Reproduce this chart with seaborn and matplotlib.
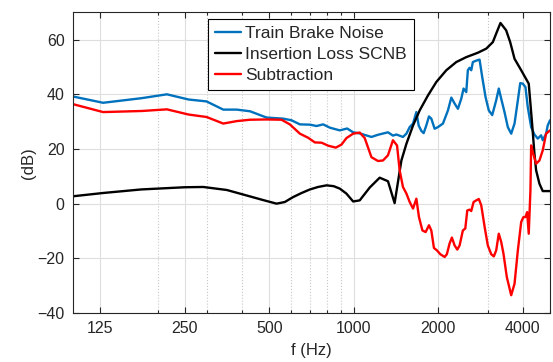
import numpy as np
import pandas as pd
import matplotlib
matplotlib.use("Agg")
import matplotlib.pyplot as plt
import seaborn as sns
from matplotlib.ticker import FixedLocator, LogLocator, NullFormatter, FixedFormatter

# ---------------- data ----------------
blue_f = [100, 128, 176, 216, 258, 299, 343, 383, 427, 489, 561, 600, 643, 698, 737, 778, 822, 892, 947, 995,
          1050, 1156, 1220, 1324, 1379, 1419, 1497, 1540, 1582, 1626, 1671, 1703, 1741, 1774, 1813, 1853, 1889, 1941, 1994, 2078,
          2165, 2226, 2287, 2350, 2415, 2461, 2516, 2549, 2585, 2621, 2656, 2744, 2806, 2868, 2947, 3027, 3113, 3216, 3285, 3351,
          3443, 3538, 3637, 3738, 3841, 3917, 4000, 4089, 4167, 4284, 4401, 4522, 4649, 4711, 4843, 4907, 5000]
blue_db = [39.2, 36.9, 38.6, 40.0, 38.1, 37.4, 34.4, 34.4, 33.8, 31.5, 31.1, 30.5, 29.0, 28.9, 28.4, 29.0, 27.8, 26.8, 27.5, 26.1,
           25.7, 24.4, 25.2, 26.1, 24.9, 25.3, 24.4, 25.6, 28.0, 29.3, 33.5, 28.6, 26.6, 25.8, 28.6, 31.9, 31.1, 27.4, 28.0, 29.3,
           34.1, 38.8, 36.6, 34.7, 38.4, 42.1, 40.8, 48.8, 49.7, 48.8, 51.8, 52.4, 52.7, 46.3, 39.0, 34.1, 32.4, 37.8, 42.1, 38.4,
           33.5, 28.0, 25.6, 29.3, 37.8, 44.1, 43.9, 42.6, 35.3, 28.0, 25.3, 23.8, 25.0, 23.2, 25.6, 28.6, 30.5]

black_f = [100, 128, 175, 250, 291, 353, 415, 480, 531, 568, 608, 652, 698, 746, 800, 848, 892, 941, 995,
           1050, 1140, 1237, 1324, 1398, 1478, 1540, 1626, 1717, 1838, 1968, 2136, 2318, 2516, 2766, 2964,
           3129, 3233, 3331, 3490, 3607, 3738, 3948, 4200, 4317, 4401, 4462, 4585, 4711, 5000]
black_db = [2.7, 3.9, 5.2, 6.0, 6.1, 5.0, 3.0, 1.2, 0.0, 0.6, 2.4, 3.9, 5.2, 6.1, 6.7, 6.4, 5.5, 3.7, 0.8,
            1.2, 5.9, 9.5, 8.2, 0.2, 15.8, 21.9, 28.6, 34.1, 39.6, 44.5, 48.8, 51.8, 53.6, 55.2, 56.7,
            59.1, 62.8, 66.1, 63.4, 59.1, 53.0, 48.8, 43.9, 29.3, 18.3, 12.2, 7.3, 4.6, 4.6]

red_f = [100, 128, 176, 216, 258, 299, 343, 383, 427, 489, 553, 592, 643, 688, 727, 768, 811, 863, 904, 942,
         995, 1050, 1094, 1156, 1220, 1271, 1324, 1379, 1426, 1457, 1497, 1540, 1582, 1626, 1671, 1707, 1756, 1803, 1853, 1889,
         1930, 1978, 2034, 2107, 2146, 2194, 2236, 2287, 2338, 2382, 2447, 2496, 2537, 2585, 2621, 2672, 2730, 2789, 2845, 2926,
         3003, 3088, 3154, 3216, 3285, 3351, 3414, 3508, 3637, 3738, 3841, 3948, 4022, 4089, 4145, 4200, 4259, 4284, 4340, 4462,
         4585, 4711, 4843, 5000]
red_db = [36.4, 33.5, 33.9, 34.5, 32.6, 31.7, 29.3, 30.2, 30.7, 30.8, 30.7, 29.0, 25.6, 24.1, 22.4, 22.3, 21.2, 20.5, 21.6, 24.0,
          25.6, 26.0, 24.0, 17.0, 15.6, 15.8, 17.7, 23.2, 21.3, 12.2, 6.1, 3.7, 0.6, -1.8, 1.8, -4.9, -9.8, -10.4, -7.9, -9.8,
          -16.2, -17.1, -18.5, -19.5, -18.5, -14.6, -12.4, -15.3, -16.8, -15.3, -9.8, -9.1, -2.5, -2.2, -2.7, 0.6, 1.2, 1.7, -0.6, -8.6,
          -15.3, -18.5, -19.3, -17.1, -11.0, -14.0, -18.3, -26.8, -33.5, -29.3, -17.1, -6.7, -4.9, -4.9, -3.1, -11.0, 4.9, 21.3, 18.9, 14.6,
          15.8, 19.5, 25.6, 26.8]

series_names = ["Train Brake Noise", "Insertion Loss SCNB", "Subtraction"]
series_colors = ["#0072BD", "#000000", "#FF0000"]
x_ticks = [125, 250, 500, 1000, 2000, 4000]
x_tick_labels = ["125", "250", "500", "1000", "2000", "4000"]
y_ticks = [-40, -20, 0, 20, 40, 60]

# ---------------- style ----------------
sns.set_style("ticks")
plt.rcParams['font.family'] = ['Liberation Sans', 'DejaVu Sans']
TXT = '#262626'

fig = plt.figure(figsize=(5.53, 3.62), dpi=100)
ax = fig.add_axes([73 / 553, 1 - 313 / 362, 477 / 553, (313 - 12.3) / 362])

data = [(blue_f, blue_db), (black_f, black_db), (red_f, red_db)]
for (fx, fy), name, col in zip(data, series_names, series_colors):
    df = pd.DataFrame({"f": fx, "dB": fy})
    sns.lineplot(data=df, x="f", y="dB", ax=ax, color=col, linewidth=1.7,
                 label=name, estimator=None, sort=False)

ax.set_xscale('log')
ax.set_xlim(100, 5000)
ax.set_ylim(-40, 70)

ax.xaxis.set_major_locator(FixedLocator(x_ticks))
ax.xaxis.set_major_formatter(FixedFormatter(x_tick_labels))
ax.xaxis.set_minor_locator(LogLocator(base=10, subs=np.arange(2, 10)))
ax.xaxis.set_minor_formatter(NullFormatter())
ax.set_yticks(y_ticks)

ax.set_axisbelow(True)
ax.grid(which='major', color='#dedede', linewidth=0.8, linestyle='-')
ax.grid(which='minor', axis='x', color='#c8c8c8', linewidth=0.8, linestyle=':')

ax.tick_params(which='both', direction='in', top=True, right=True, colors=TXT,
               labelsize=11.5, width=0.8)
ax.tick_params(which='major', length=4, pad=6)
ax.tick_params(which='minor', length=2.5)
for s in ax.spines.values():
    s.set_color(TXT)
    s.set_linewidth(0.8)

ax.set_xlabel("f (Hz)", fontsize=12, color=TXT, labelpad=5)
ax.set_ylabel("(dB)", fontsize=12, color=TXT, labelpad=1)

leg = ax.legend(loc='upper left', bbox_to_anchor=(0.283, 0.978), fontsize=12.5,
                frameon=True, fancybox=False, edgecolor='black', framealpha=1,
                borderaxespad=0, handlelength=1.5, handletextpad=0.25,
                borderpad=0.4, labelspacing=0.35)
leg.get_frame().set_linewidth(0.8)

fig.savefig("out.png", dpi=100)
